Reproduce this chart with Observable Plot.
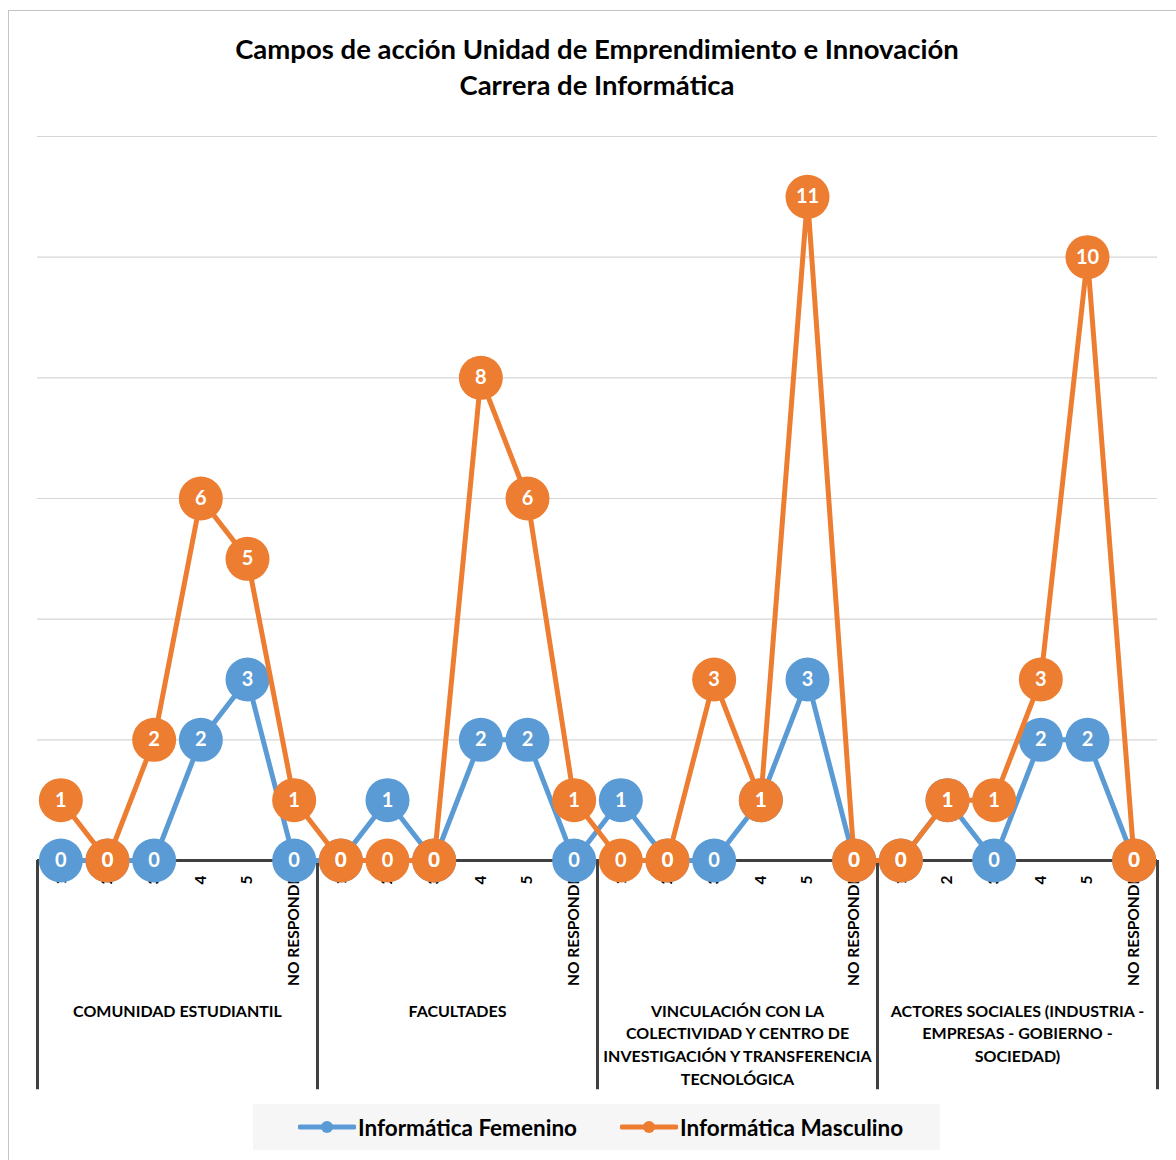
<!DOCTYPE html>
<html><head><meta charset="utf-8">
<script src="https://cdn.jsdelivr.net/npm/d3@7"></script>
<script src="https://cdn.jsdelivr.net/npm/@observablehq/plot@0.6"></script>
<style>
body{margin:0;background:#fff;overflow:hidden;font-family:Lato,"Open Sans",sans-serif;width:1176px;height:1160px;position:relative;}
#frame{position:absolute;left:8px;top:10px;width:1300px;height:1300px;border:1.5px solid #c4c4c4;box-sizing:border-box;}
#title{position:absolute;left:0;top:31px;width:1194px;text-align:center;font-weight:bold;font-size:27.5px;line-height:36px;color:#000;}
#chart{position:absolute;left:0;top:120px;}
#legend{position:absolute;left:253px;top:1104px;width:687px;height:46px;background:#f6f6f6;}
.item{position:absolute;top:0;height:46px;display:flex;align-items:center;font-weight:bold;font-size:22.5px;color:#000;white-space:nowrap;}
.item svg{margin-right:2px;}
</style>
</head><body>
<div id="frame"></div>
<div id="title">Campos de acción Unidad de Emprendimiento e Innovación<br>Carrera de Informática</div>
<div id="chart"></div>
<div id="legend"></div>
<script>
const groups = [
  "COMUNIDAD ESTUDIANTIL",
  "FACULTADES",
  "VINCULACIÓN CON LA\nCOLECTIVIDAD Y CENTRO DE\nINVESTIGACIÓN Y TRANSFERENCIA\nTECNOLÓGICA",
  "ACTORES SOCIALES (INDUSTRIA -\nEMPRESAS - GOBIERNO -\nSOCIEDAD)"
];
const subcats = ["1", "2", "3", "4", "5", "NO RESPONDE"];
const femenino = [0,0,0,2,3,0, 0,1,0,2,2,0, 1,0,0,1,3,0, 0,1,0,2,2,0];
const masculino = [1,0,2,6,5,1, 0,0,0,8,6,1, 0,0,3,1,11,0, 0,1,1,3,10,0];
const seriesNames = ["Informática Femenino", "Informática Masculino"];
const seriesColors = ["#5B9BD5", "#ED7D31"];
const gridValues = [2, 4, 6, 8, 10, 12];

const cats = groups.flatMap((g, gi) => subcats.map((s, si) => ({i: gi * subcats.length + si, group: g, sub: s})));
const fem = cats.map(c => ({...c, value: femenino[c.i]}));
const masc = cats.map(c => ({...c, value: masculino[c.i]}));
const dividers = d3.range(groups.length + 1).map(k => k * subcats.length - 0.5);
const groupCenters = groups.map((g, gi) => ({x: gi * subcats.length + (subcats.length - 1) / 2, label: g}));

const chart = Plot.plot({
  width: 1176, height: 975,
  marginTop: 16, marginBottom: 235, marginLeft: 37, marginRight: 19,
  x: {type: "linear", domain: [-0.5, cats.length - 0.5], axis: null},
  y: {domain: [0, 12], axis: null},
  style: {fontFamily: "Lato, 'Open Sans', sans-serif", overflow: "visible", background: "transparent"},
  marks: [
    Plot.ruleY(gridValues, {stroke: "#d6d6d6", strokeWidth: 1.2}),
    Plot.ruleY([0], {stroke: "#404040", strokeWidth: 3}),
    Plot.ruleX(dividers, {y1: 0, y2: -3.8, stroke: "#404040", strokeWidth: 3}),
    Plot.text(cats, {x: "i", y: 0, text: "sub", rotate: -90, textAnchor: "end", dy: 15, fontWeight: "bold", fontSize: 15.5, fill: "#000"}),
    Plot.text(groupCenters, {x: "x", y: 0, text: "label", dy: 140, lineAnchor: "top", fontWeight: "bold", fontSize: 16, lineHeight: 1.42, fill: "#000"}),
    Plot.line(fem, {x: "i", y: "value", stroke: seriesColors[0], strokeWidth: 5}),
    Plot.dot(fem, {x: "i", y: "value", r: 22, fill: seriesColors[0], stroke: "none"}),
    Plot.line(masc, {x: "i", y: "value", stroke: seriesColors[1], strokeWidth: 5}),
    Plot.dot(masc, {x: "i", y: "value", r: 22, fill: seriesColors[1], stroke: "none"}),
    Plot.text(fem, {x: "i", y: "value", text: "value", fill: "#fff", fontWeight: "bold", fontSize: 20}),
    Plot.text(masc, {x: "i", y: "value", text: "value", fill: "#fff", fontWeight: "bold", fontSize: 20})
  ]
});
document.getElementById("chart").appendChild(chart);

const legend = document.getElementById("legend");
const lefts = [45, 367];
seriesNames.forEach((name, k) => {
  const it = document.createElement("div");
  it.className = "item";
  it.style.left = lefts[k] + "px";
  it.innerHTML = `<svg width="58" height="14"><line x1="2" y1="7" x2="56" y2="7" stroke="${seriesColors[k]}" stroke-width="5" stroke-linecap="round"/><circle cx="29" cy="7" r="6" fill="${seriesColors[k]}"/></svg><span>${name}</span>`;
  legend.appendChild(it);
});
</script>
</body></html>
